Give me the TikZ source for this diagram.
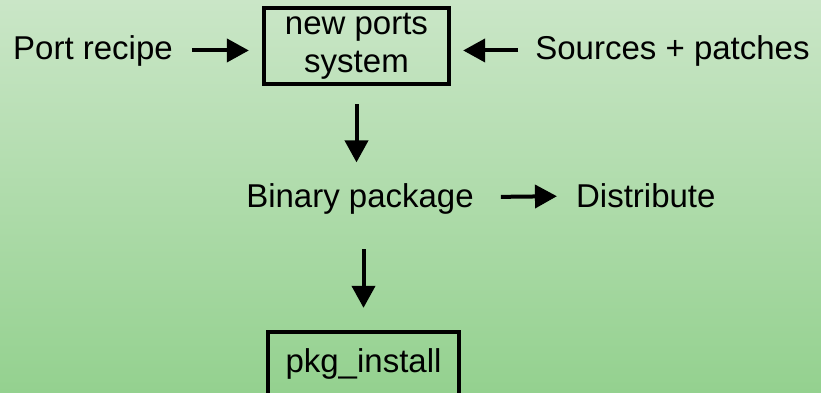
\documentclass[tikz,border=0pt]{standalone}
\usepackage{fontspec}
\setmainfont{Liberation Sans}
\usetikzlibrary{positioning,arrows.meta}
\definecolor{bgtop}{RGB}{202,230,199}
\definecolor{bgbottom}{RGB}{148,209,143}
\tikzset{
x=1pt, y=1pt,
every node/.style={font=\fontsize{33}{38}\selectfont},
txt/.style={inner sep=0pt},
box/.style={draw, line width=3.3pt, align=center, inner sep=3pt},
flow/.style={-{Triangle[length=22pt,width=23pt]}, line width=4pt},
}

\begin{document}
\begin{tikzpicture}
    \useasboundingbox (0,0) rectangle (821,392);
    \shade[top color=bgtop, bottom color=bgbottom] (0,0) rectangle (821,392);
    \clip (0,0) rectangle (821,392);

    \node[box, minimum width=185pt, minimum height=76pt] (ports) at (356.5,346) {new ports\\system};
    \node[txt, anchor=base] (recipe) at (93,333) {Port recipe};
    \node[txt, anchor=base] (sources) at (672.5,333) {Sources + patches};
    \node[txt, anchor=base] (binary) at (360,185) {Binary package};
    \node[txt, base right=102pt of binary] (distribute) {Distribute};
    \node[box, minimum width=191pt, minimum height=63pt] (pkg) at (363.5,28.5) {pkg\_install};

    \draw[flow, shorten <=19pt, shorten >=13.5pt] (recipe) -- (recipe -| ports.west);
    \draw[flow, shorten <=17pt, shorten >=12.5pt] (sources) -- (sources -| ports.east);
    \draw[flow, shorten <=18.5pt, shorten >=20.5pt] (ports.south) -- (ports.south |- binary.north);
    \draw[flow, shorten <=27pt, shorten >=19pt] (binary) -- (distribute);
    \draw[flow, shorten <=35pt, shorten >=22.5pt] (binary.south -| pkg) -- (pkg);

\end{tikzpicture}
\end{document}
